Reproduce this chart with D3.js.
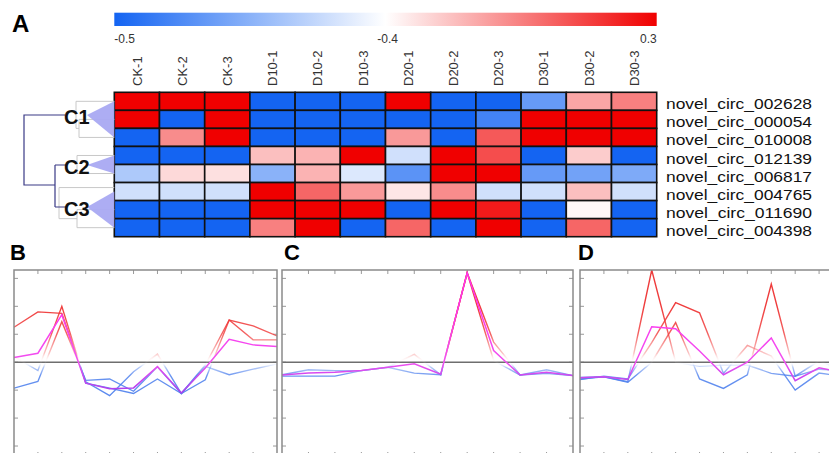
<!DOCTYPE html>
<html>
<head>
<meta charset="utf-8">
<script src="https://cdn.jsdelivr.net/npm/d3@7"></script>
<style>
  body { margin: 0; background: #fff; }
  svg { display: block; font-family: "Liberation Sans", Arial, sans-serif; }
</style>
</head>
<body>
<svg id="chart"></svg>
<script>
// ---- data ----
const columns = ["CK-1", "CK-2", "CK-3", "D10-1", "D10-2", "D10-3", "D20-1", "D20-2", "D20-3", "D30-1", "D30-2", "D30-3"];
const genes = ["novel_circ_002628", "novel_circ_000054", "novel_circ_010008", "novel_circ_012139",
               "novel_circ_006817", "novel_circ_004765", "novel_circ_011690", "novel_circ_004398"];
// relative colour value per cell (-1 blue .. 0 white .. 1 red)
const heatValues = [
  [1, 1, 1, -1, -1, -1, 1, -1, -1, -0.65, 0.35, 0.5],
  [1, -1, 1, -1, -1, -1, -1, -1, -0.8, 1, 1, 1],
  [-1, 0.45, 1, -1, -1, -1, 0.4, -1, 0.65, 1, 1, 1],
  [-1, -1, -1, 0.25, 0.3, 1, -0.2, 1, 0.7, -1, 0.2, -1],
  [-0.35, 0.15, 0.12, -0.5, 0.3, -0.15, -0.7, 1, 1, -0.65, -0.6, -0.55],
  [-0.2, -0.2, -0.2, 1, 0.6, 0.4, 0.1, 0.45, -0.2, -0.2, 0.25, -0.2],
  [-1, -1, -1, 1, 1, 1, -1, 1, 0.9, -1, 0.03, -1],
  [-1, -1, -1, 0.5, 1, -1, 0.6, -1, 1, -1, 0.6, -1]
];
const colorbarLabels = ["-0.5", "-0.4", "0.3"];
const clusterNames = ["C1", "C2", "C3"];
const clusterRows = [[0, 1, 2], [3, 4], [5, 6, 7]];

// expression profiles, one point per column
const profileB = [
  [1.25, 1.8, 1.75, -0.7, -1.2, -0.34, 0.29, -1.12, -0.15, -0.45, -0.25, -0.06],
  [0.2, -0.3, 2.0, -0.75, -0.93, -1.12, -0.6, -1.12, -0.63, 1.51, 1.3, 0.94],
  [-0.93, -0.69, 1.45, -0.65, -0.6, -1.04, -0.16, -1.12, -0.1, 1.51, 0.8, 0.8]
];
const meanB = [0.17, 0.32, 1.7, -0.75, -0.95, -0.92, -0.16, -1.1, -0.21, 0.82, 0.62, 0.56];
const profileC = [
  [-0.5, -0.5, -0.5, -0.3, -0.18, 0.28, -0.45, 3.2, 0.72, -0.46, -0.27, -0.48],
  [-0.45, -0.27, -0.3, -0.3, -0.18, -0.39, -0.45, 3.2, 0.06, -0.46, -0.4, -0.48]
];
const meanC = [-0.46, -0.39, -0.36, -0.3, -0.18, -0.06, -0.43, 3.2, 0.42, -0.46, -0.36, -0.48];
const profileD = [
  [-0.6, -0.52, -0.7, 3.3, 0.0, -0.15, -0.1, -0.1, -0.4, -0.5, 0.05, -0.3],
  [-0.62, -0.5, -0.6, 0.7, 2.13, 1.77, -0.4, 0.6, 0.22, -1.0, -0.39, -0.5],
  [-0.55, -0.52, -0.72, 0.0, 1.42, -0.6, -0.94, -0.45, 2.8, -0.5, -0.25, -0.3]
];
const meanD = [-0.56, -0.52, -0.62, 1.27, 1.2, 0.4, -0.45, 0.0, 0.87, -0.66, -0.2, -0.36];

// ---- layout ----
const W = 829, H = 453;
const svg = d3.select("#chart").attr("width", W).attr("height", H);
const defs = svg.append("defs");

const heat = { left: 114.3, right: 656.7, top: 92.3, bottom: 236.7 };
const x = d3.scaleBand().domain(columns).range([heat.left, heat.right]);
const y = d3.scaleBand().domain(genes).range([heat.top, heat.bottom]);
const color = d3.scaleLinear().domain([-1, 0, 1]).range(["#1464f2", "#ffffff", "#f00000"]);

// panel label A
svg.append("text").attr("x", 12).attr("y", 32)
  .attr("font-size", 24).attr("font-weight", "bold").text("A");

// colour bar
const cg = defs.append("linearGradient").attr("id", "cbar");
cg.append("stop").attr("offset", "0%").attr("stop-color", color(-1));
cg.append("stop").attr("offset", "50%").attr("stop-color", color(0));
cg.append("stop").attr("offset", "100%").attr("stop-color", color(1));
svg.append("rect").attr("x", heat.left).attr("y", 12.7)
  .attr("width", heat.right - heat.left).attr("height", 13.3)
  .attr("fill", "url(#cbar)");
svg.selectAll(".cbl").data(colorbarLabels).join("text")
  .attr("class", "cbl")
  .attr("x", (d, i) => [heat.left, 398, heat.right][i])
  .attr("y", 43)
  .attr("text-anchor", (d, i) => i === 0 ? "start" : "end")
  .attr("font-size", 12).attr("fill", "#333").text(d => d);

// column labels
svg.selectAll(".col").data(columns).join("text")
  .attr("class", "col")
  .attr("transform", d => `translate(${x(d) + x.bandwidth() / 2 + 4.6},86) rotate(-90)`)
  .attr("font-size", 13).attr("fill", "#333").text(d => d);

// cells
const cells = [];
heatValues.forEach((row, r) => row.forEach((v, c) => cells.push({ gene: genes[r], col: columns[c], v })));
svg.selectAll(".cell").data(cells).join("rect")
  .attr("class", "cell")
  .attr("x", d => x(d.col)).attr("y", d => y(d.gene))
  .attr("width", x.bandwidth()).attr("height", y.bandwidth())
  .attr("fill", d => color(d.v))
  .attr("stroke", "#111").attr("stroke-width", 1.6);

// row labels
svg.selectAll(".rowl").data(genes).join("text")
  .attr("class", "rowl")
  .attr("x", 666).attr("y", d => y(d) + y.bandwidth() - 1)
  .attr("font-size", 15.5)
  .attr("textLength", 146).attr("lengthAdjust", "spacingAndGlyphs")
  .attr("fill", "#111").text(d => d);

// dendrogram
const rc = g => y(g) + y.bandwidth() / 2;
const nodeY = [115, 165, 207];
const apexX = 87;
const greyX = [77, 77, 59];
clusterRows.forEach((rows, k) => {
  const y0 = rc(genes[rows[0]]), y1 = rc(genes[rows[rows.length - 1]]);
  // faint sub-tree
  const gx = greyX[k];
  const gl = svg.append("g").attr("stroke", "#c8c8c8").attr("stroke-width", 1).attr("fill", "none");
  if (rows.length === 2) {
    gl.append("path").attr("d", `M${heat.left},${y0}H${gx}V${y1}H${heat.left}`);
  } else if (k === 0) {
    const ym = (rc(genes[rows[1]]) + y1) / 2;
    gl.append("path").attr("d", `M${heat.left},${y0}H${gx - 1}V${ym}H${gx + 2}`);
    gl.append("path").attr("d", `M${heat.left},${rc(genes[rows[1]])}H${gx + 2}V${y1}H${heat.left}`);
  } else {
    const ym = (rc(genes[rows[1]]) + y1) / 2;
    gl.append("path").attr("d", `M${heat.left},${y0 - 4}H${gx}V${ym}H${gx + 18}`);
    gl.append("path").attr("d", `M${heat.left},${rc(genes[rows[1]])}H${gx + 18}V${y1}H${heat.left}`);
  }
  svg.append("path")
    .attr("d", `M${apexX},${nodeY[k]}L${heat.left},${y0}L${heat.left},${y1}Z`)
    .attr("fill", "#a9a9f2").attr("fill-opacity", 0.95);
});
svg.append("path")
  .attr("d", `M65,${nodeY[0]}H24V185H55 M55,${nodeY[1]}V${nodeY[2]} M66,${nodeY[1]}H55 M55,${nodeY[2]}H66`)
  .attr("fill", "none").attr("stroke", "#3a3a86").attr("stroke-width", 1.2);
svg.selectAll(".cl").data(clusterNames).join("text")
  .attr("class", "cl")
  .attr("x", 64).attr("y", (d, i) => nodeY[i] + 8.5)
  .attr("font-size", 20).attr("font-weight", "bold").attr("fill", "#111").text(d => d);

// ---- profile panels ----
const pTop = 270, pBottom = 456;
const yv = d3.scaleLinear().domain([-3.3, 3.3]).range([pBottom - 1.6, pTop]);

const mg = defs.append("linearGradient").attr("id", "member")
  .attr("gradientUnits", "userSpaceOnUse").attr("x1", 0).attr("x2", 0)
  .attr("y1", yv(2)).attr("y2", yv(-2));
[[0, "rgb(238,50,50)", 0.95], [0.25, "rgb(242,70,70)", 0.85], [0.42, "rgb(245,120,120)", 0.45],
 [0.5, "rgb(255,255,255)", 0.05], [0.545, "rgb(110,150,240)", 0.5], [0.62, "rgb(80,130,238)", 0.85],
 [1, "rgb(60,115,235)", 0.95]].forEach(s =>
  mg.append("stop").attr("offset", s[0]).attr("stop-color", s[1]).attr("stop-opacity", s[2]));
const ag = defs.append("linearGradient").attr("id", "mean")
  .attr("gradientUnits", "userSpaceOnUse").attr("x1", 0).attr("x2", 0)
  .attr("y1", yv(2)).attr("y2", yv(-2));
[[0, "#ff33ee"], [0.5, "#f050f0"], [0.75, "#b040ee"], [1, "#7a40e0"]].forEach(s =>
  ag.append("stop").attr("offset", s[0]).attr("stop-color", s[1]));

const panels = [
  { label: "B", lx: 10, left: 14, right: 277, members: profileB, mean: meanB },
  { label: "C", lx: 284, left: 282, right: 573, members: profileC, mean: meanC },
  { label: "D", lx: 578, left: 580, right: 843, members: profileD, mean: meanD }
];

panels.forEach((p, pi) => {
  const xp = d3.scaleLinear().domain([0, columns.length - 1]).range([p.left, p.right]);
  const g = svg.append("g");
  const clipId = "clip" + pi;
  defs.append("clipPath").attr("id", clipId).append("rect")
    .attr("x", p.left).attr("y", pTop).attr("width", p.right - p.left).attr("height", pBottom - pTop);

  g.append("text").attr("x", p.lx).attr("y", 260)
    .attr("font-size", 22).attr("font-weight", "bold").text(p.label);

  // ticks
  const tk = g.append("g").attr("stroke", "#999").attr("stroke-width", 1);
  d3.range(1, columns.length - 1).forEach(i => {
    tk.append("line").attr("x1", xp(i)).attr("x2", xp(i)).attr("y1", pTop).attr("y2", pTop + 4);
    tk.append("line").attr("x1", xp(i)).attr("x2", xp(i)).attr("y1", pBottom).attr("y2", pBottom - 4);
  });
  d3.range(-3, 4).forEach(v => {
    tk.append("line").attr("x1", p.left).attr("x2", p.left + 4).attr("y1", yv(v)).attr("y2", yv(v));
    tk.append("line").attr("x1", p.right).attr("x2", p.right - 4).attr("y1", yv(v)).attr("y2", yv(v));
  });

  g.append("line").attr("x1", p.left).attr("x2", p.right).attr("y1", yv(0)).attr("y2", yv(0))
    .attr("stroke", "#6e6e6e").attr("stroke-width", 1.6);

  const line = d3.line().x((d, i) => xp(i)).y(d => yv(d));
  const lg = g.append("g").attr("clip-path", `url(#${clipId})`).attr("fill", "none");
  lg.selectAll(".m").data(p.members).join("path")
    .attr("class", "m").attr("d", line)
    .attr("stroke", "url(#member)").attr("stroke-width", 1.4);
  lg.append("path").attr("d", line(p.mean))
    .attr("stroke", "url(#mean)").attr("stroke-width", 1.5);

  g.append("rect").attr("x", p.left).attr("y", pTop)
    .attr("width", p.right - p.left).attr("height", pBottom - pTop)
    .attr("fill", "none").attr("stroke", "#8a8a8a").attr("stroke-width", 1.5);
});
</script>
</body>
</html>
